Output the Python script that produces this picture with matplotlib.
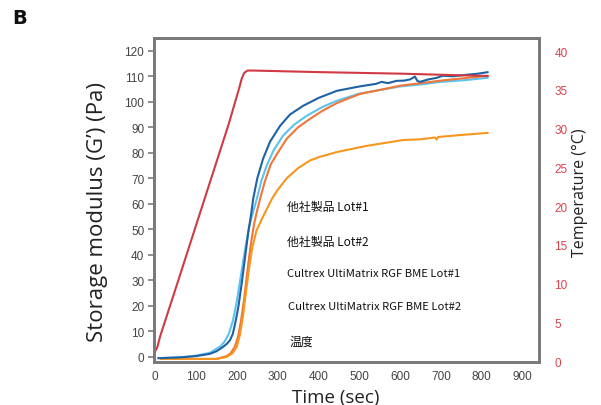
import matplotlib
matplotlib.use("Agg")
import matplotlib.pyplot as plt

plt.rcParams['font.family'] = ['Liberation Sans', 'DejaVu Sans']

# ---- data ----
t_dblue = [8, 60, 100, 134, 150, 166, 176, 183, 190, 197, 204, 212, 220, 228, 235, 240, 250, 264, 281,
           306, 330, 362, 400, 445, 500, 540, 555, 570, 591, 610, 625, 636, 642, 648, 670, 690, 704, 730,
           763, 790, 814]
g_dblue = [-0.5, -0.2, 0.3, 1.2, 2.2, 3.9, 5.2, 6.5, 9, 14, 20, 29, 39, 49, 56, 62, 70, 77.6, 84.3,
           90.6, 95, 98.4, 101.5, 104.3, 106, 107, 107.8, 107.3, 108.2, 108.3, 108.8, 109.9, 108.2, 107.8,
           108.8, 109.4, 110.2, 110.0, 110.6, 111.0, 111.6]

t_lblue = [8, 60, 100, 134, 160, 170, 180, 190, 200, 210, 220, 230, 240, 249, 260, 273, 290, 313, 340,
           371, 410, 445, 500, 599, 650, 700, 760, 814]
g_lblue = [-0.5, -0.2, 0.5, 1.6, 4.2, 6, 9, 14, 22, 32, 42, 51, 57, 62, 69, 75, 81, 86.7, 91,
           94.5, 98, 100.4, 103.2, 106, 106.8, 107.8, 108.5, 109.4]

t_org1 = [15, 100, 150, 175, 185, 195, 203, 210, 218, 226, 234, 242, 249, 257, 268, 283, 300, 322, 350,
          379, 410, 445, 500, 600, 700, 814]
g_org1 = [-0.8, -0.8, -0.8, 0.3, 1.5, 4, 8, 14, 23, 34, 44, 52, 57, 62, 68.5, 75.5, 80, 85.5, 90,
          93.3, 96.5, 99.5, 103, 106.3, 108.3, 110.2]

t_org2 = [15, 100, 150, 175, 190, 200, 208, 215, 222, 230, 238, 248, 261, 275, 286, 300, 322, 350, 379,
          403, 445, 517, 560, 607, 650, 685, 689, 693, 750, 814]
g_org2 = [-0.8, -0.8, -0.8, 0, 1.5, 4, 9, 16, 25, 35, 43, 49.5, 54, 58.5, 62, 65.5, 70, 74, 77,
          78.4, 80.3, 82.7, 83.8, 85, 85.3, 86, 85.2, 86.2, 87, 87.8]

t_temp = [0, 5, 12, 60, 120, 180, 206, 212, 218, 226, 240, 400, 600, 814]
c_temp = [1.3, 1.8, 3.2, 11.0, 20.8, 30.6, 35.3, 36.5, 37.2, 37.5, 37.5, 37.3, 37.1, 36.8]

legend_labels = ['他社製品 Lot#1', '他社製品 Lot#2',
                 'Cultrex UltiMatrix RGF BME Lot#1', 'Cultrex UltiMatrix RGF BME Lot#2', '温度']

x_ticks = [0, 100, 200, 300, 400, 500, 600, 700, 800, 900]
y_ticks = [0, 10, 20, 30, 40, 50, 60, 70, 80, 90, 100, 110, 120]
t_ticks = [0, 5, 10, 15, 20, 25, 30, 35, 40]

W, H = 601, 406

# ---- figure ----
fig = plt.figure(figsize=(6.01, 4.06), dpi=100)
ax = fig.add_axes([154/W, 1-363/H, (539-154)/W, (363-39)/H])
ax2 = ax.twinx()

lw = 1.5
ax.plot(t_lblue, g_lblue, color='#5cc3ee', lw=lw, zorder=3)
ax.plot(t_org1, g_org1, color='#f27637', lw=lw, zorder=3)
ax.plot(t_dblue, g_dblue, color='#1f62a3', lw=lw, zorder=4)
ax.plot(t_org2, g_org2, color='#f7961f', lw=lw, zorder=3)
ax2.plot(t_temp, c_temp, color='#d03a44', lw=lw)

ax.set_xlim(-3, 940)
ax.set_ylim(-2, 125)
ax2.set_ylim(-0.1, 41.7)

ax.set_xticks(x_ticks)
ax.set_yticks(y_ticks)
ax2.set_yticks(t_ticks)

spine_c = '#7a7a7a'
for a in (ax, ax2):
    for s in a.spines.values():
        s.set_color(spine_c)
        s.set_linewidth(2)

ax.tick_params(axis='y', length=4.5, width=1.2, color=spine_c, labelsize=8.5, labelcolor='#444444', pad=2.5)
ax.tick_params(axis='x', length=0, labelsize=8.5, labelcolor='#444444', pad=6)
ax2.tick_params(axis='y', length=0, labelsize=8.5, labelcolor='#d9434f', pad=11)

lab_fam = ['Open Sans', 'DejaVu Sans']
fig.text(336/W, 1-398/H, 'Time (sec)', fontsize=13.5, family=lab_fam, color='#222222',
         ha='center', va='center')
fig.text(97/W, 1-212/H, "Storage modulus (G’) (Pa)", fontsize=16, family=lab_fam, color='#222222',
         ha='center', va='center', rotation=90)
fig.text(580/W, 1-193/H, 'Temperature (°C)', fontsize=11.5, family=lab_fam, color='#222222',
         ha='center', va='center', rotation=90)

# legend-like labels (no handles in reference)
fam = ['Noto Sans CJK JP', 'DejaVu Sans']
ypos = [207, 242, 274, 307, 342]
xpos = [287, 287, 287, 288, 290]
sizes = [8.6, 8.6, 8.1, 8.1, 8.6]
for lab, xp, yp, fs in zip(legend_labels, xpos, ypos, sizes):
    fig.text(xp/W, 1-yp/H, lab, fontsize=fs, family=fam, color='#111111', va='center', ha='left')

fig.text(12/W, 1-19/H, 'B', fontsize=14, fontweight='bold', family=['DejaVu Sans'],
         va='center', ha='left', color='#111111')

fig.savefig('out.png', dpi=100)
